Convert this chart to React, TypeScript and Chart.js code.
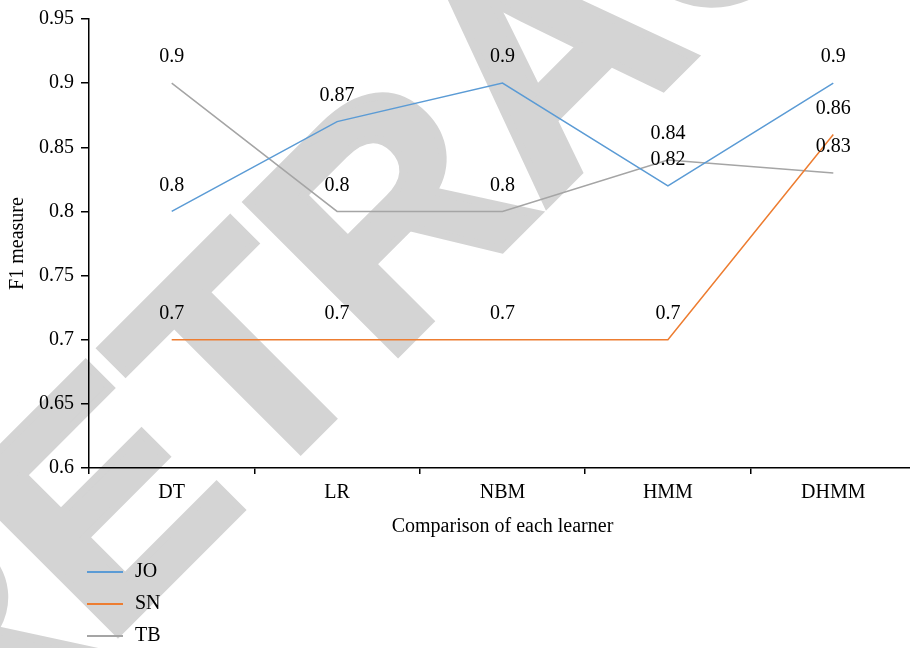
import React, { useEffect, useRef } from "react";
import { Chart, registerables } from "chart.js";

Chart.register(...registerables);

// Learners compared on the x axis
const learners = ["DT", "LR", "NBM", "HMM", "DHMM"];

// F1 measure per learner for each series
const joValues = [0.8, 0.87, 0.9, 0.82, 0.9];
const snValues = [0.7, 0.7, 0.7, 0.7, 0.86];
const tbValues = [0.9, 0.8, 0.8, 0.84, 0.83];

const seriesNames = ["JO", "SN", "TB"];
const seriesColors = ["#5b9bd5", "#ed7d31", "#a5a5a5"];

// Y axis tick values
const yTicks = [0.6, 0.65, 0.7, 0.75, 0.8, 0.85, 0.9, 0.95];

const watermarkText = "RETRACTED";

const SERIF = "'Liberation Serif', 'Times New Roman', serif";
const TEXT_SIZE = 20;
const AXIS_WIDTH = 1.5;

// Large diagonal stamp behind the plot
const watermarkPlugin = {
  id: "watermark",
  beforeDraw(chart: any) {
    const { ctx } = chart;
    ctx.save();
    ctx.translate(-55, 806);
    ctx.rotate(-Math.PI / 4);
    ctx.font = "bold 310px 'Liberation Sans', Arial, sans-serif";
    ctx.fillStyle = "#d4d4d4";
    ctx.strokeStyle = "#d4d4d4";
    ctx.lineWidth = 8;
    ctx.lineJoin = "miter";
    ctx.textAlign = "left";
    ctx.textBaseline = "alphabetic";
    ctx.fillText(watermarkText, 0, 0);
    ctx.strokeText(watermarkText, 0, 0);
    ctx.restore();
  },
};

// Value written above every point
const valueLabelPlugin = {
  id: "valueLabels",
  afterDatasetsDraw(chart: any) {
    const { ctx } = chart;
    ctx.save();
    ctx.font = `${TEXT_SIZE}px ${SERIF}`;
    ctx.fillStyle = "#000";
    ctx.textAlign = "center";
    ctx.textBaseline = "middle";
    chart.data.datasets.forEach((ds: any, i: number) => {
      const meta = chart.getDatasetMeta(i);
      meta.data.forEach((pt: any, j: number) => {
        ctx.fillText(String(ds.data[j]), pt.x, pt.y - 26);
      });
    });
    ctx.restore();
  },
};

// Vertical legend in the lower-left corner
const sideLegendPlugin = {
  id: "sideLegend",
  afterDraw(chart: any) {
    const { ctx, chartArea } = chart;
    const xScale = chart.scales.x;
    const startX = chartArea.left - 2;
    const startY = xScale.bottom + 29;
    ctx.save();
    ctx.font = `${TEXT_SIZE}px ${SERIF}`;
    ctx.textAlign = "left";
    ctx.textBaseline = "middle";
    chart.data.datasets.forEach((ds: any, i: number) => {
      const y = startY + i * 32;
      ctx.strokeStyle = ds.borderColor;
      ctx.lineWidth = 2;
      ctx.beginPath();
      ctx.moveTo(startX, y);
      ctx.lineTo(startX + 36, y);
      ctx.stroke();
      ctx.fillStyle = "#000";
      ctx.fillText(ds.label, startX + 48, y);
    });
    ctx.restore();
  },
};

export default function App() {
  const canvasRef = useRef<HTMLCanvasElement | null>(null);

  useEffect(() => {
    document.body.style.margin = "0";
    const canvas = canvasRef.current;
    if (!canvas) return;

    const seriesValues = [joValues, snValues, tbValues];
    const tickFont = { family: SERIF, size: TEXT_SIZE };

    const chart = new Chart(canvas, {
      type: "line",
      data: {
        labels: learners,
        datasets: seriesNames.map((name, i) => ({
          label: name,
          data: seriesValues[i],
          borderColor: seriesColors[i],
          backgroundColor: seriesColors[i],
          borderWidth: 1.5,
          pointRadius: 0,
          tension: 0,
          fill: false,
        })),
      },
      options: {
        responsive: false,
        animation: false,
        devicePixelRatio: 1,
        layout: { padding: { top: 16, right: 0, bottom: 105, left: 0 } },
        plugins: {
          legend: { display: false },
          tooltip: { enabled: false },
        },
        scales: {
          x: {
            type: "category",
            offset: true,
            grid: {
              offset: true,
              drawOnChartArea: false,
              drawTicks: true,
              tickLength: 6,
              color: "#000",
              lineWidth: AXIS_WIDTH,
            },
            border: { display: true, color: "#000", width: AXIS_WIDTH },
            ticks: {
              color: "#000",
              font: tickFont,
              padding: 7,
              maxRotation: 0,
              autoSkip: false,
            },
            title: {
              display: true,
              text: "Comparison of each learner",
              color: "#000",
              font: tickFont,
              padding: { top: 4, bottom: 4 },
            },
            afterFit: (scale: any) => {
              scale.height = 75;
            },
          },
          y: {
            min: 0.6,
            max: 0.95,
            afterBuildTicks: (scale: any) => {
              scale.ticks = yTicks.map((v) => ({ value: v }));
            },
            grid: {
              drawOnChartArea: false,
              drawTicks: true,
              tickLength: 8,
              color: "#000",
              lineWidth: AXIS_WIDTH,
            },
            border: { display: true, color: "#000", width: AXIS_WIDTH },
            ticks: {
              color: "#000",
              font: tickFont,
              padding: 7,
              callback: (v: any) => String(Number(Number(v).toFixed(2))),
            },
            title: {
              display: true,
              text: "F1 measure",
              color: "#000",
              font: tickFont,
              padding: { top: 6, bottom: 4 },
            },
            afterFit: (scale: any) => {
              scale.width = 89;
            },
          },
        },
      },
      plugins: [watermarkPlugin, valueLabelPlugin, sideLegendPlugin],
    } as any);

    return () => chart.destroy();
  }, []);

  return (
    <div style={{ width: 910, height: 648, overflow: "hidden", position: "relative", background: "#fff" }}>
      <canvas ref={canvasRef} width={916} height={648} style={{ display: "block" }} />
    </div>
  );
}
